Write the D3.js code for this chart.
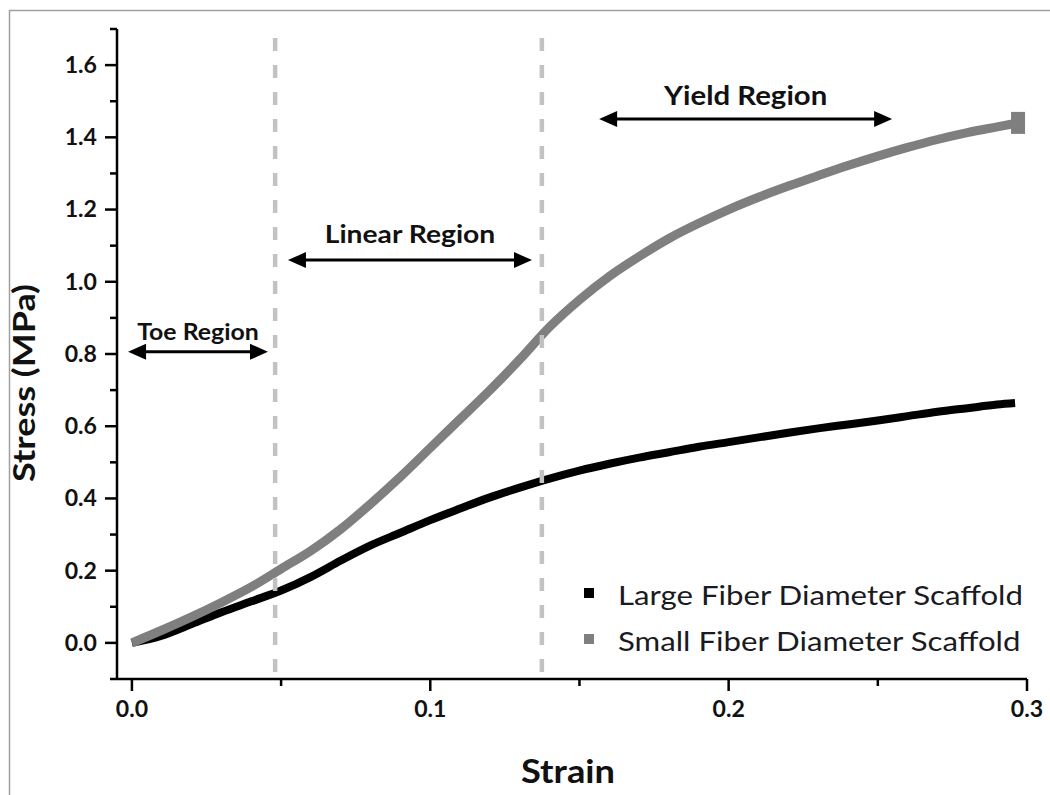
<!DOCTYPE html>
<html>
<head>
<meta charset="utf-8">
<script src="https://cdn.jsdelivr.net/npm/d3@7"></script>
<style>
  html, body { margin: 0; padding: 0; background: #fff; }
  svg { display: block; font-family: Lato, "Open Sans", sans-serif; }
</style>
</head>
<body>
<svg id="chart" width="1050" height="795"></svg>
<script>
// Stress–strain curves of the two electrospun scaffolds
const strainSmall = [0, 0.01, 0.02, 0.03, 0.04, 0.05, 0.06, 0.07, 0.08, 0.09, 0.10, 0.11, 0.12, 0.13, 0.14, 0.15,
  0.16, 0.17, 0.18, 0.19, 0.20, 0.21, 0.22, 0.23, 0.24, 0.25, 0.26, 0.27, 0.28, 0.29, 0.297];
const stressSmall = [0, 0.035, 0.072, 0.112, 0.155, 0.205, 0.255, 0.315, 0.385, 0.46, 0.54, 0.62, 0.70, 0.785, 0.875, 0.95,
  1.015, 1.07, 1.12, 1.162, 1.2, 1.234, 1.265, 1.294, 1.322, 1.348, 1.372, 1.394, 1.413, 1.429, 1.44];

const strainLarge = [0, 0.01, 0.02, 0.03, 0.04, 0.05, 0.06, 0.07, 0.08, 0.09, 0.10, 0.11, 0.12, 0.13, 0.14, 0.15,
  0.16, 0.17, 0.18, 0.19, 0.20, 0.21, 0.22, 0.23, 0.24, 0.25, 0.26, 0.27, 0.28, 0.29, 0.296];
const stressLarge = [0, 0.02, 0.052, 0.085, 0.115, 0.145, 0.183, 0.228, 0.27, 0.305, 0.34, 0.372, 0.403, 0.43, 0.455, 0.477,
  0.496, 0.513, 0.528, 0.543, 0.556, 0.569, 0.582, 0.594, 0.605, 0.616, 0.628, 0.64, 0.65, 0.66, 0.664];

const seriesNames = ["Large Fiber Diameter Scaffold", "Small Fiber Diameter Scaffold"];
const seriesColors = ["#000000", "#7f7f7f"];

const xMajorTicks = [0, 0.1, 0.2, 0.3];
const xMinorTicks = [0.05, 0.15, 0.25];
const yMajorTicks = [0, 0.2, 0.4, 0.6, 0.8, 1.0, 1.2, 1.4, 1.6];
const yMinorTicks = [-0.1, 0.1, 0.3, 0.5, 0.7, 0.9, 1.1, 1.3, 1.5, 1.7];

// Region boundaries (strain)
const regionBounds = [0.048, 0.1374];
// Region annotations: label, arrow start/end strain, arrow stress level, label stress level
const regionNames = ["Toe Region", "Linear Region", "Yield Region"];
const regionFrom = [-0.0013, 0.0523, 0.1566];
const regionTo = [0.0456, 0.1341, 0.2548];
const regionArrowY = [0.806, 1.06, 1.4505];
const regionLabelY = [0.839, 1.107, 1.489];
const regionFont = [22, 25, 26];

const svg = d3.select("#chart");

// text helper: anchored at (px, py), widened horizontally by sx
function label(parent, px, py, str, opts) {
  const o = Object.assign({ size: 20, weight: "normal", anchor: "start", sx: 1, rotate: 0, fill: "#111" }, opts);
  return parent.append("text")
    .attr("transform", `translate(${px},${py}) rotate(${o.rotate}) scale(${o.sx},1)`)
    .attr("text-anchor", o.anchor).attr("font-size", o.size).attr("font-weight", o.weight)
    .attr("dy", o.dy || null)
    .attr("fill", o.fill).text(str);
}

// outer frame
svg.append("path")
  .attr("d", "M9.5,795 V10.5 H1050")
  .attr("fill", "none").attr("stroke", "#a0a0a0").attr("stroke-width", 1.5);

const x = d3.scaleLinear().domain([-0.005, 0.3]).range([117, 1027]);
const y = d3.scaleLinear().domain([-0.1, 1.7]).range([679, 29]);

const line = d3.line().x(d => x(d[0])).y(d => y(d[1])).curve(d3.curveMonotoneX);

const large = strainLarge.map((s, i) => [s, stressLarge[i]]);
const small = strainSmall.map((s, i) => [s, stressSmall[i]]);

svg.append("path").datum(large).attr("d", line)
  .attr("fill", "none").attr("stroke", seriesColors[0]).attr("stroke-width", 8);
svg.append("path").datum(small).attr("d", line)
  .attr("fill", "none").attr("stroke", seriesColors[1]).attr("stroke-width", 9);

// end marker of the small-fiber curve
const lastS = small[small.length - 1];
svg.append("rect")
  .attr("x", x(lastS[0]) - 7).attr("y", y(lastS[1]) - 11)
  .attr("width", 14).attr("height", 22).attr("fill", seriesColors[1]);

// region boundaries
svg.selectAll("line.bound").data(regionBounds).join("line")
  .attr("class", "bound")
  .attr("x1", d => x(d)).attr("x2", d => x(d))
  .attr("y1", 38).attr("y2", y(-0.1))
  .attr("stroke", "#c2c2c2").attr("stroke-width", 4.5)
  .attr("stroke-dasharray", "13,14");

// axes
const axisG = svg.append("g").attr("stroke", "#000").attr("stroke-width", 2.5);
axisG.append("line").attr("x1", x.range()[0]).attr("x2", x.range()[1])
  .attr("y1", y(-0.1)).attr("y2", y(-0.1));
axisG.append("line").attr("x1", x.range()[0]).attr("x2", x.range()[0])
  .attr("y1", y(-0.1)).attr("y2", y(1.7));

axisG.selectAll("line.xmaj").data(xMajorTicks).join("line").attr("class", "xmaj")
  .attr("x1", d => x(d)).attr("x2", d => x(d)).attr("y1", y(-0.1)).attr("y2", y(-0.1) + 12);
axisG.selectAll("line.xmin").data(xMinorTicks).join("line").attr("class", "xmin")
  .attr("x1", d => x(d)).attr("x2", d => x(d)).attr("y1", y(-0.1)).attr("y2", y(-0.1) + 7);
axisG.selectAll("line.ymaj").data(yMajorTicks).join("line").attr("class", "ymaj")
  .attr("x1", x.range()[0] - 12).attr("x2", x.range()[0]).attr("y1", d => y(d)).attr("y2", d => y(d));
axisG.selectAll("line.ymin").data(yMinorTicks).join("line").attr("class", "ymin")
  .attr("x1", x.range()[0] - 7).attr("x2", x.range()[0]).attr("y1", d => y(d)).attr("y2", d => y(d));

const fmt = d3.format(".1f");
xMajorTicks.forEach(t => label(svg, x(t), y(-0.1) + 38, fmt(t),
  { size: 22, weight: "bold", anchor: "middle", sx: 1.05 }));
yMajorTicks.forEach(t => label(svg, x.range()[0] - 20, y(t), fmt(t),
  { size: 22, weight: "bold", anchor: "end", sx: 1.05, dy: "0.36em" }));

label(svg, 568, 783, "Strain", { size: 33, weight: "bold", anchor: "middle", sx: 1.1 });
label(svg, 35, 383, "Stress (MPa)", { size: 30, weight: "bold", anchor: "middle", sx: 1.2, rotate: -90 });

// region annotations with double-headed arrows
const arrowG = svg.append("g");
regionNames.forEach((name, i) => {
  const x0 = x(regionFrom[i]), x1 = x(regionTo[i]), yy = y(regionArrowY[i]);
  const hl = 18, hh = 8;
  arrowG.append("line").attr("x1", x0 + hl - 2).attr("x2", x1 - hl + 2)
    .attr("y1", yy).attr("y2", yy).attr("stroke", "#000").attr("stroke-width", 3);
  arrowG.append("path")
    .attr("d", `M${x0},${yy} L${x0 + hl},${yy - hh} L${x0 + hl},${yy + hh} Z`).attr("fill", "#000");
  arrowG.append("path")
    .attr("d", `M${x1},${yy} L${x1 - hl},${yy - hh} L${x1 - hl},${yy + hh} Z`).attr("fill", "#000");
  label(arrowG, x((regionFrom[i] + regionTo[i]) / 2), y(regionLabelY[i]), name,
    { size: regionFont[i], weight: "bold", anchor: "middle", sx: 1.13 });
});

// legend
const legend = svg.append("g").attr("transform", "translate(589,593)");
seriesNames.forEach((name, i) => {
  const g = legend.append("g").attr("transform", `translate(0,${i * 46})`);
  g.append("rect").attr("x", -5).attr("y", -5).attr("width", 10).attr("height", 10).attr("fill", seriesColors[i]);
  label(g, 29, 12, name, { size: 26, sx: 1.2, fill: "#1a1a22" });
});
</script>
</body>
</html>
